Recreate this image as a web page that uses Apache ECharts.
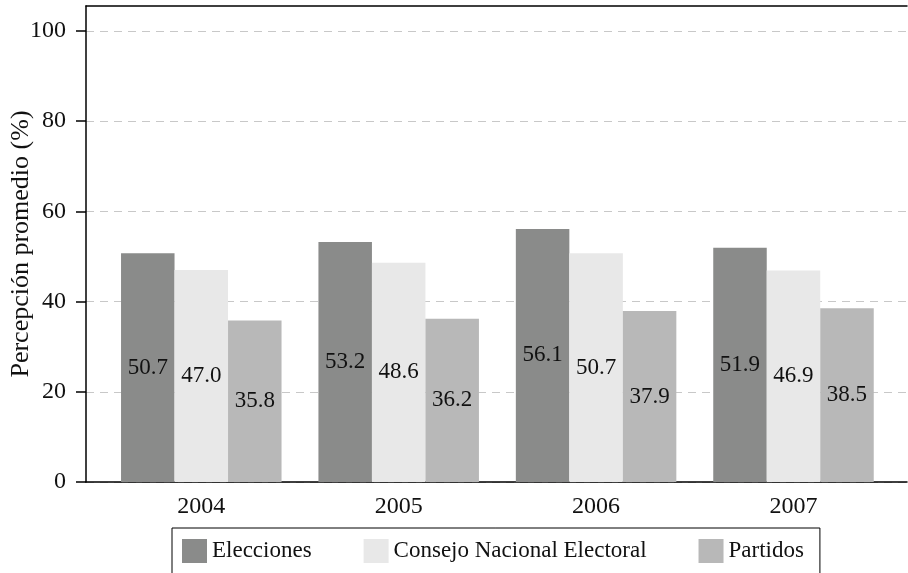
<!DOCTYPE html>
<html>
<head>
<meta charset="utf-8">
<script src="https://cdn.jsdelivr.net/npm/echarts@6/dist/echarts.min.js"></script>
<style>html,body{margin:0;padding:0;background:#fff}#c{width:908px;height:573px}</style>
</head>
<body>
<div id="c"></div>
<script>
var years = [2004, 2005, 2006, 2007];
var seriesNames = ['Elecciones', 'Consejo Nacional Electoral', 'Partidos'];
var elecciones = [50.7, 53.2, 56.1, 51.9];
var consejo = [47.0, 48.6, 50.7, 46.9];
var partidos = [35.8, 36.2, 37.9, 38.5];
var yTicks = [0, 20, 40, 60, 80, 100];
var colors = ['#8a8b8a', '#e8e8e8', '#b8b8b8'];
var FONT = 'Liberation Serif';

function pairs(vals) { return years.map(function (y, i) { return [y, vals[i]]; }); }

var allVals = [elecciones, consejo, partidos];
var series = allVals.map(function (vals, k) {
  return {
    name: seriesNames[k],
    type: 'bar',
    barWidth: 53.5,
    barGap: '0%',
    data: pairs(vals),
    itemStyle: { color: colors[k] },
    label: {
      show: true, position: 'inside', color: '#111', fontFamily: FONT, fontSize: 23,
      formatter: function (p) { return p.value[1].toFixed(1); }
    }
  };
});

var chart = echarts.init(document.getElementById('c'));
chart.setOption({
  animation: false,
  color: colors,
  grid: { left: 86, right: 1, top: 6, bottom: 91, containLabel: false, outerBoundsMode: 'none' },
  xAxis: [{
    type: 'value', min: 2003.416, max: 2007.575,
    axisLine: { show: true, onZero: false, lineStyle: { color: '#000', width: 1.5 } },
    axisTick: { show: false },
    splitLine: { show: false },
    axisLabel: {
      customValues: years, formatter: function (v) { return String(v); },
      fontFamily: FONT, fontSize: 24, color: '#111', margin: 13
    }
  }, {
    type: 'value', position: 'top', min: 2003.416, max: 2007.575,
    axisLine: { show: true, onZero: false, lineStyle: { color: '#000', width: 1.5 } },
    axisTick: { show: false }, axisLabel: { show: false }, splitLine: { show: false }
  }],
  yAxis: {
    type: 'value', min: 0, max: 105.5,
    name: 'Percepción promedio (%)', nameLocation: 'middle', nameGap: 52,
    nameMoveOverlap: false,
    nameTextStyle: { fontFamily: FONT, fontSize: 26, color: '#111' },
    axisLine: { show: true, lineStyle: { color: '#000', width: 1.5 } },
    axisTick: { show: true, customValues: yTicks, length: 10, lineStyle: { color: '#000', width: 1.5 } },
    axisLabel: { customValues: yTicks, fontFamily: FONT, fontSize: 24, color: '#111', margin: 20 },
    splitLine: { show: true, lineStyle: { color: '#c8c8c8', type: [8, 6], width: 1 } }
  },
  legend: {
    data: seriesNames,
    left: 172, top: 528,
    orient: 'horizontal',
    icon: 'rect', itemWidth: 25, itemHeight: 24, itemGap: 52,
    padding: [11, 16, 11, 10],
    borderColor: '#000', borderWidth: 1,
    textStyle: { fontFamily: FONT, fontSize: 23, color: '#111' }
  },
  series: series
});
</script>
</body>
</html>
